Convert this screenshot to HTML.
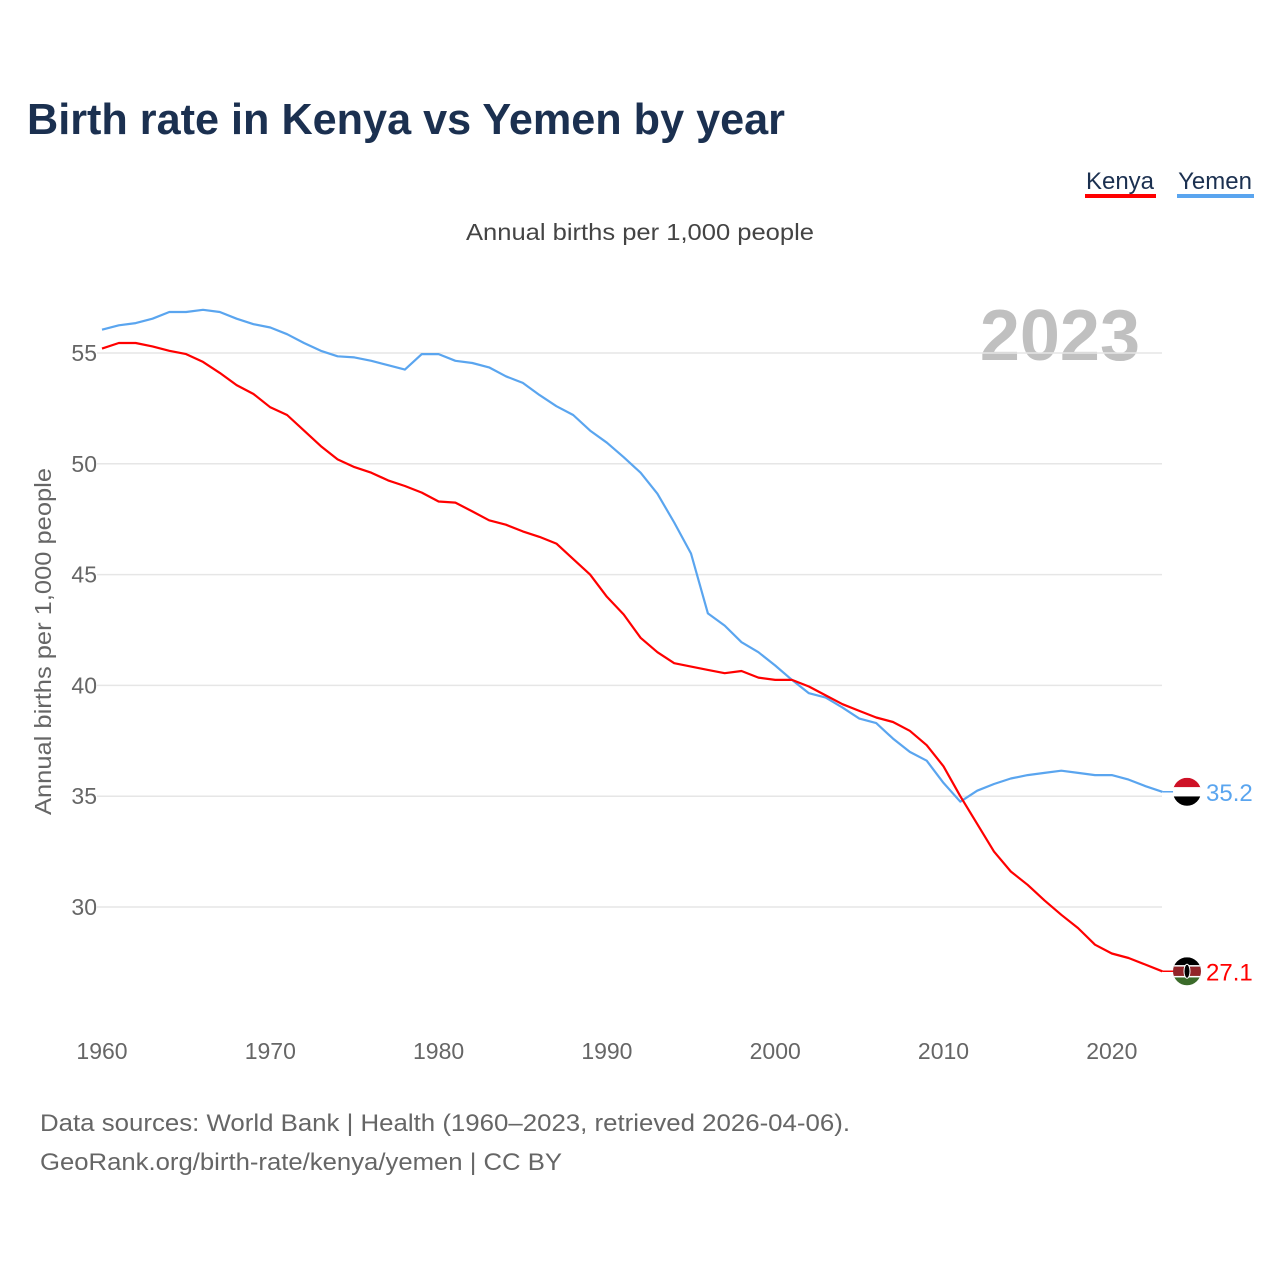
<!DOCTYPE html>
<html><head><meta charset="utf-8">
<style>
body{margin:0;background:#fff;}
#wrap{position:relative;width:1280px;height:1280px;font-family:"Liberation Sans",sans-serif;}
</style></head>
<body>
<div id="wrap">
<svg id="chart" width="1280" height="1280" xmlns="http://www.w3.org/2000/svg">
<text x="27" y="134" font-size="44" font-weight="bold" fill="#1b3050" textLength="758" lengthAdjust="spacingAndGlyphs">Birth rate in Kenya vs Yemen by year</text>
<g>
<text x="1120" y="189" font-size="24" fill="#1b3050" text-anchor="middle">Kenya</text>
<rect x="1085" y="194" width="71" height="4" fill="#ff0000"/>
<text x="1215" y="189" font-size="24" fill="#1b3050" text-anchor="middle">Yemen</text>
<rect x="1177" y="194" width="77" height="4" fill="#5aa5ef"/>
</g>
<text x="466" y="240" font-size="23" fill="#444" textLength="348" lengthAdjust="spacingAndGlyphs">Annual births per 1,000 people</text>
<text x="1140" y="360" font-size="72" font-weight="bold" fill="#c0c0c0" text-anchor="end">2023</text>
<text transform="translate(51,815) rotate(-90)" font-size="23" fill="#666" textLength="347" lengthAdjust="spacingAndGlyphs">Annual births per 1,000 people</text>
<g id="grid"></g><g id="yticks"></g><g id="xticks"></g><g id="lines"></g><g id="ends"></g>
<text x="40" y="1131" font-size="24" fill="#666" textLength="810" lengthAdjust="spacingAndGlyphs">Data sources: World Bank | Health (1960–2023, retrieved 2026-04-06).</text>
<text x="40" y="1170" font-size="24" fill="#666" textLength="522" lengthAdjust="spacingAndGlyphs">GeoRank.org/birth-rate/kenya/yemen | CC BY</text>
</svg>
</div>
<script>
const years=[];for(let y=1960;y<=2023;y++)years.push(y);
const kenya=[55.2,55.45,55.45,55.3,55.1,54.95,54.6,54.1,53.55,53.15,52.55,52.2,51.5,50.8,50.2,49.85,49.6,49.25,49.0,48.7,48.3,48.25,47.85,47.45,47.25,46.95,46.7,46.4,45.7,45.0,44.0,43.2,42.15,41.5,41.0,40.85,40.7,40.55,40.65,40.35,40.25,40.25,39.95,39.55,39.15,38.85,38.55,38.35,37.95,37.3,36.35,35.0,33.75,32.5,31.6,31.0,30.3,29.65,29.05,28.3,27.9,27.7,27.4,27.1];
const yemen=[56.05,56.25,56.35,56.55,56.85,56.85,56.95,56.85,56.55,56.3,56.15,55.85,55.45,55.1,54.85,54.8,54.65,54.45,54.25,54.95,54.95,54.65,54.55,54.35,53.95,53.65,53.1,52.6,52.2,51.5,50.95,50.3,49.6,48.65,47.35,45.95,43.25,42.7,41.95,41.5,40.9,40.25,39.65,39.45,39.0,38.5,38.3,37.6,37.0,36.6,35.6,34.75,35.25,35.55,35.8,35.95,36.05,36.15,36.05,35.95,35.95,35.75,35.45,35.2];
const yTicks=[30,35,40,45,50,55];
const xTicks=[1960,1970,1980,1990,2000,2010,2020];
const NS='http://www.w3.org/2000/svg';
const X=y=>102+(y-1960)*16.83;
const Y=v=>353+(55-v)*22.16;
function mk(t,a,p){const e=document.createElementNS(NS,t);for(const k in a)e.setAttribute(k,a[k]);p.appendChild(e);return e;}
const g=document.getElementById('grid'),yt=document.getElementById('yticks'),xt=document.getElementById('xticks');
yTicks.forEach(v=>{
 const l=mk('line',{x1:97,x2:1162,y1:Y(v),y2:Y(v),stroke:'#e6e6e6','stroke-width':1.5},g);
 
 
 const t=mk('text',{x:97,y:Y(v)+8,'font-size':23,fill:'#666','text-anchor':'end'},yt);
 t.textContent=v;
 
 
});
xTicks.forEach(v=>{
 const t=mk('text',{x:X(v),y:1059,'font-size':23,fill:'#666','text-anchor':'middle'},xt);
 t.textContent=v;
 
 
});
const L=document.getElementById('lines');
function line(data,color,name){
 const d=data.map((v,i)=>(i?'L':'M')+X(years[i]).toFixed(1)+','+Y(v).toFixed(1)).join('');
 const p=mk('path',{d:d,fill:'none',stroke:color,'stroke-width':2.2,'stroke-linejoin':'round'},L);
 
 
}
line(yemen,'#5aa5ef','yemen-line');
line(kenya,'#ff0000','kenya-line');
const E=document.getElementById('ends');
function end(data,color,name,stripes){
 const v=data[data.length-1],x=X(years[years.length-1]),y=Y(v);
 mk('line',{x1:x,x2:1175,y1:y,y2:y,stroke:color,'stroke-width':1.5},E);
 const cx=1187,r=14;
 const clip=mk('clipPath',{id:'c'+name},E);mk('circle',{cx:cx,cy:y,r:r},clip);
 const fg=mk('g',{'clip-path':'url(#c'+name+')'},E);
 
 
 stripes.forEach((c,i)=>mk('rect',{x:cx-r,y:y-r+i*2*r/stripes.length,width:2*r,height:2*r/stripes.length+0.5,fill:c},fg));
 if(name==='kenya'){mk('rect',{x:cx-r,y:y-r+2*r/3-1.5,width:2*r,height:1.5,fill:'#fff'},fg);mk('rect',{x:cx-r,y:y+r/3,width:2*r,height:1.5,fill:'#fff'},fg);mk('ellipse',{cx:cx,cy:y,rx:3,ry:7,fill:'#000',stroke:'#fff','stroke-width':1},fg);}
 const t=mk('text',{x:1206,y:y+9,'font-size':24,fill:color},E);
 t.textContent=v.toFixed(1);
 
 
}
end(yemen,'#5aa5ef','yemen',['#ce1126','#ffffff','#000000']);
end(kenya,'#ff0000','kenya',['#000000','#922529','#3b6b2a']);
</script>
</body></html>
